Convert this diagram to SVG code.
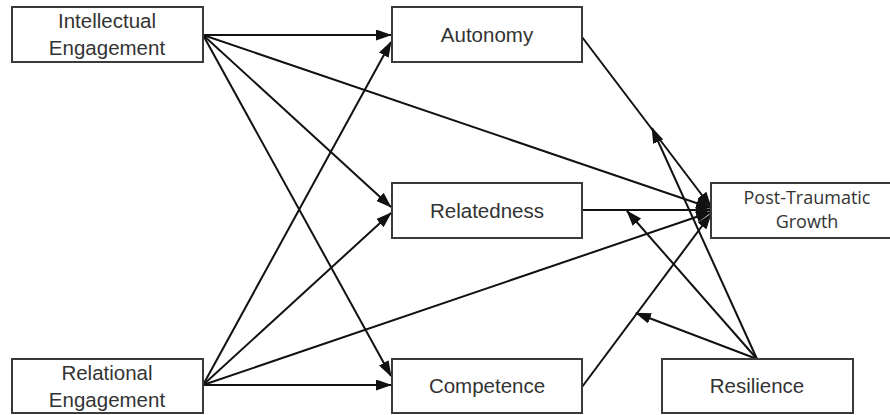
<svg xmlns="http://www.w3.org/2000/svg" width="890" height="415" viewBox="0 0 890 415">
<style>
.box{fill:#fff;stroke:#3a3a3a;stroke-width:2}
.t{font-family:"Liberation Sans",Arial,sans-serif;font-size:20.5px;fill:#333;text-anchor:middle}
.tc{font-family:"Open Sans","Noto Sans",sans-serif;font-size:18px;fill:#333;text-anchor:middle}
.c line{stroke:#111;stroke-width:2;fill:none}
.a{marker-end:url(#ah)}
</style>
<defs>
<marker id="ah" viewBox="0 0 16 11" markerWidth="16" markerHeight="11" refX="15" refY="5.5" orient="auto" markerUnits="userSpaceOnUse">
<path d="M0,0 L16,5.5 L0,11 Z" fill="#111"/>
</marker>
</defs>
<rect width="890" height="415" fill="#fff"/>
<g class="c" id="connectors">
<line class="a" x1="203" y1="35" x2="391" y2="35"/>
<line class="a" x1="203" y1="35" x2="391" y2="207"/>
<line class="a" x1="203" y1="35" x2="391" y2="376"/>
<line class="a" x1="203" y1="35" x2="711" y2="208"/>
<line class="a" x1="203" y1="385" x2="391" y2="42"/>
<line class="a" x1="203" y1="385" x2="391" y2="213"/>
<line class="a" x1="203" y1="385" x2="391" y2="385"/>
<line class="a" x1="203" y1="385" x2="711" y2="212"/>
<line class="a" x1="582" y1="37" x2="711" y2="207"/>
<line class="a" x1="582" y1="210" x2="711" y2="210"/>
<line class="a" x1="582" y1="387" x2="711" y2="214"/>
<line class="a" x1="757" y1="359" x2="652" y2="128"/>
<line class="a" x1="757" y1="359" x2="627" y2="211"/>
<line class="a" x1="757" y1="359" x2="636" y2="313"/>
</g>
<g id="intellectual">
<rect class="box" x="12" y="7" width="191" height="55"/>
<text class="t" x="107" y="28">Intellectual</text>
<text class="t" x="107" y="55">Engagement</text>
</g>
<g id="relational">
<rect class="box" x="12" y="359" width="191" height="54"/>
<text class="t" x="107" y="380">Relational</text>
<text class="t" x="107" y="407">Engagement</text>
</g>
<g id="autonomy">
<rect class="box" x="392" y="7" width="190" height="55"/>
<text class="t" x="487" y="42">Autonomy</text>
</g>
<g id="relatedness">
<rect class="box" x="392" y="183" width="190" height="55"/>
<text class="t" x="487" y="218">Relatedness</text>
</g>
<g id="competence">
<rect class="box" x="392" y="359" width="190" height="54"/>
<text class="t" x="487" y="393">Competence</text>
</g>
<g id="ptg">
<rect class="box" x="711" y="183" width="190" height="55"/>
<text class="tc" x="807" y="204">Post-Traumatic</text>
<text class="tc" x="807" y="228">Growth</text>
</g>
<g id="resilience">
<rect class="box" x="662" y="359" width="191" height="54"/>
<text class="t" x="757" y="393">Resilience</text>
</g>
</svg>
